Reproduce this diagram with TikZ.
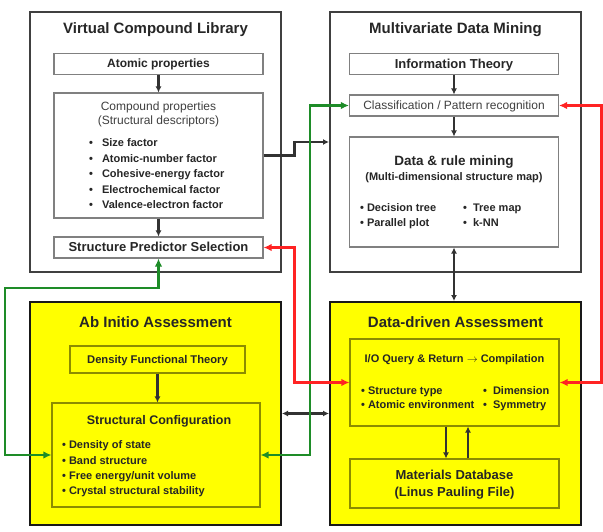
\documentclass[tikz,border=0pt]{standalone}
\usepackage{fontspec}
\setmainfont{Liberation Sans}
\usetikzlibrary{arrows.meta,positioning}
\definecolor{boxyellow}{RGB}{255,255,0}
\definecolor{arrowgray}{RGB}{50,50,50}
\definecolor{linkgreen}{RGB}{30,140,40}
\definecolor{linkred}{RGB}{255,35,35}
\tikzset{
  item/.style={anchor=west, inner sep=0, text height=8pt, text depth=2.5pt,
    font=\fontsize{11}{13}\selectfont\bfseries, text=black!85}
}

\begin{document}
\begin{tikzpicture}[x=1pt, y=-1pt,
    outer/.style={draw=black!75, line width=2pt, fill=white, minimum width=251, minimum height=260},
    yel/.style={outer, draw=black!90, fill=boxyellow, minimum height=223},
    inner/.style={draw=black!50, line width=1.1pt, fill=white, minimum width=209, text depth=1pt},
    yinner/.style={inner, draw=black!45!boxyellow, fill=boxyellow},
    title/.style={font=\fontsize{15}{17}\selectfont\bfseries, text=black!85},
    head/.style={font=\fontsize{12.5}{14}\selectfont\bfseries, text=black!85},
    plain/.style={font=\fontsize{12}{14}\selectfont, text=black!75},
    arr/.style={-{Latex[length=6pt,width=6pt]}, line width=2.4pt, draw=arrowgray},
    darr/.style={arr, {Latex[length=6pt,width=6pt]}-{Latex[length=6pt,width=6pt]}},
    link/.style={{Latex[length=8pt,width=7.5pt]}-{Latex[length=8pt,width=7.5pt]}, line width=2.3pt}]
  \useasboundingbox (0,0) rectangle (603,531);

  \node[outer](vcl) at (155.5,142) {};
  \node[outer](mdm) at (455.5,142) {};
  \node[yel](aia) at (155.5,413.5) {};
  \node[yel](dda) at (455.5,413.5) {};

  \node[title](vcltitle) at (155.5,30) {Virtual Compound Library};
  \node[title](mdmtitle) at (455.5,30) {Multivariate Data Mining};
  \node[title](aiatitle) at (155.5,322) {Ab Initio Assessment};
  \node[title](ddatitle) at (455.5,322) {Data-driven Assessment};

  % virtual compound library
  \node[inner, minimum height=21, head, font=\fontsize{12}{14}\selectfont\bfseries](atomic) at (158.5,64) {Atomic properties};
  \node[inner, minimum height=125](cprop) at (158.5,155.5) {};
  \node[plain](cptext) at (158.5,107) {Compound properties};
  \node[plain](cpsub) at (158.5,121) {(Structural descriptors)};
  \foreach \t [count=\i] in {Size factor, Atomic-number factor, Cohesive-energy factor, Electrochemical factor, Valence-electron factor}
    \node[item](cp\i) at (89,128.5+15.5*\i) {•\hspace{9pt}\t};
  \node[inner, minimum height=21, head, font=\fontsize{13}{15}\selectfont\bfseries](sps) at (158.5,247.5) {Structure Predictor Selection};

  % multivariate data mining
  \node[inner, minimum height=21, head, font=\fontsize{13}{15}\selectfont\bfseries](info) at (454,64) {Information Theory};
  \node[inner, minimum height=21, plain](classif) at (454,105.5) {Classification / Pattern recognition};
  \node[inner, minimum height=110](drm) at (454,192) {};
  \node[head, font=\fontsize{13.5}{15}\selectfont\bfseries](drmtext) at (454,162) {Data \& rule mining};
  \node[item, anchor=center](drmsub) at (454,178) {(Multi-dimensional structure map)};
  \node[item](dm1) at (360,209) {•\hspace{3pt}Decision tree};
  \node[item](dm2) at (360,224) {•\hspace{3pt}Parallel plot};
  \node[item](dm3) at (463,209) {•\hspace{6pt}Tree map};
  \node[item](dm4) at (463,224) {•\hspace{6pt}k-NN};

  % ab initio assessment
  \node[yinner, minimum width=175, minimum height=27, head, font=\fontsize{11.2}{13}\selectfont\bfseries](dft) at (157.5,359.5) {Density Functional Theory};
  \node[yinner, minimum width=208, minimum height=104](sconf) at (156,455) {};
  \node[head](sctext) at (159,421) {Structural Configuration};
  \foreach \t [count=\i] in {Density of state, Band structure, Free energy/unit volume, Crystal structural stability}
    \node[item](sc\i) at (62,430.5+15.4*\i) {•\hspace{3pt}\t};

  % data-driven assessment
  \node[yinner, minimum height=87](io) at (454.5,382.5) {};
  \node[item, anchor=center](iotext) at (454.5,360) {I/O Query \& Return $\rightarrow$ Compilation};
  \node[item](io1) at (361,392) {•\hspace{3pt}Structure type};
  \node[item](io2) at (361,406) {•\hspace{3pt}Atomic environment};
  \node[item](io3) at (483,392) {•\hspace{6pt}Dimension};
  \node[item](io4) at (483,406) {•\hspace{6pt}Symmetry};
  \node[yinner, minimum height=49](db) at (454.5,483.5) {};
  \node[head, font=\fontsize{13}{15}\selectfont\bfseries](dbtext) at (454.5,475) {Materials Database};
  \node[head, font=\fontsize{13}{15}\selectfont\bfseries](dbsub) at (454.5,493) {(Linus Pauling File)};

  \path
  (atomic) edge[arr] (cprop)
  (cprop) edge[arr] (sps)
  (info) edge[arr] (classif)
  (classif) edge[arr] (drm)
  (dft.south) edge[arr] (dft.south |- sconf.north)
  ([xshift=-8.5pt]io.south) edge[arr] ([xshift=-8.5pt]db.north)
  ([xshift=13.5pt]db.north) edge[arr] ([xshift=13.5pt]io.south)
  (drm.south) edge[darr] (drm.south |- dda.north)
  (aia.east) edge[darr] (dda.west)
  ;
  \draw[arr] (cprop.east) -- ++(31,0) |- (mdm.west);

  \draw[link, linkgreen] (sps.south) |- (5,288) |- (sconf.west);
  \draw[link, linkgreen] (sconf.east) -| ([xshift=-39pt]classif.west) -- (classif.west);
  \draw[link, linkred] (sps.east) -| ([xshift=-55pt]io.west) -- (io.west);
  \draw[link, linkred] (classif.east) -| ([xshift=42pt]io.east) -- (io.east);
\end{tikzpicture}
\end{document}
